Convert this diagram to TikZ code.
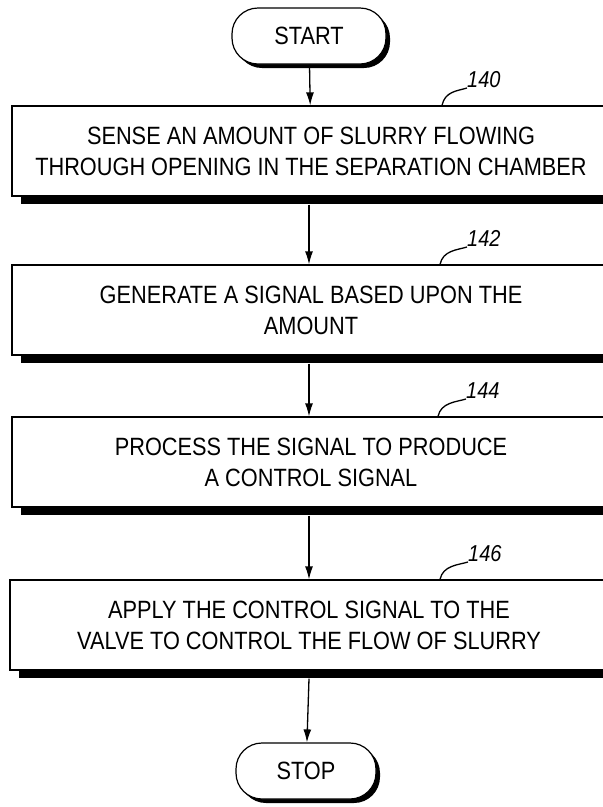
\documentclass[tikz,border=0pt]{standalone}
\usepackage{fontspec}
\setmainfont{Liberation Sans}[FakeStretch=0.87]
\usetikzlibrary{shadows,arrows.meta}

\tikzset{
  stepbox/.style={draw,fill=white,line width=1.2pt,minimum width=598pt,minimum height=90pt,
    align=center,font=\fontsize{25}{31}\selectfont,
    general shadow={fill=black,shadow xshift=9pt,shadow yshift=-8pt}},
  term/.style={draw,fill=white,line width=1.2pt,rounded corners=26pt,minimum height=56pt,
    font=\fontsize{25}{28}\selectfont,
    general shadow={fill=black,shadow xshift=4pt,shadow yshift=-4pt,rounded corners=26pt}},
  flow/.style={-{Latex[length=13pt,width=8pt]},line width=1.3pt},
  ref/.style={font=\fontsize{23}{24}\selectfont\itshape,anchor=south west,inner sep=0pt},
  leader/.style={line width=1.3pt}
}

\begin{document}
\begin{tikzpicture}[x=1pt,y=-1pt]
  \useasboundingbox (0,0) rectangle (603,807);

  \node[term,minimum width=154pt] (start) at (309,36) {START};
  \node[stepbox] (sense) at (311,151) {SENSE AN AMOUNT OF SLURRY FLOWING\\THROUGH OPENING IN THE SEPARATION CHAMBER};
  \node[stepbox] (gen) at (311,310) {GENERATE A SIGNAL BASED UPON THE\\AMOUNT};
  \node[stepbox] (proc) at (311,462) {PROCESS THE SIGNAL TO PRODUCE\\A CONTROL SIGNAL};
  \node[stepbox] (apply) at (309,625) {APPLY THE CONTROL SIGNAL TO THE\\VALVE TO CONTROL THE FLOW OF SLURRY};
  \node[term,minimum width=140pt] (stop) at (306,771) {STOP};

  \draw[flow] (start) -- (sense);
  \draw[flow] (sense.south -| start) ++(0,8) -- (gen.north -| start);
  \draw[flow] (gen.south -| start) ++(0,8) -- (proc.north -| start);
  \draw[flow] (proc.south -| start) ++(0,8) -- (apply.north -| start);
  \draw[flow] (apply.south -| start) ++(0,8) -- (stop);

  % reference numerals
  \node[ref] (n140) at (467,88) {140};
  \node[ref] (n142) at (467,247) {142};
  \node[ref] (n144) at (466,399) {144};
  \node[ref] (n146) at (468,562) {146};
  \draw[leader] (sense.north -| 442,0) .. controls +(3,-14) and +(-10,3) .. (n140.south west);
  \draw[leader] (gen.north -| 440,0) .. controls +(3,-14) and +(-10,3) .. (n142.south west);
  \draw[leader] (proc.north -| 438,0) .. controls +(3,-14) and +(-10,3) .. (n144.south west);
  \draw[leader] (apply.north -| 440,0) .. controls +(3,-14) and +(-10,3) .. (n146.south west);
\end{tikzpicture}
\end{document}
